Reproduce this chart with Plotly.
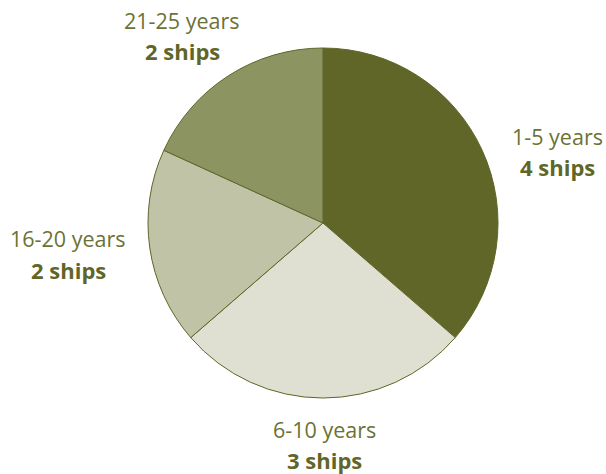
import plotly.graph_objects as go

age_groups = ["1-5 years", "6-10 years", "16-20 years", "21-25 years"]
ships = [4, 3, 2, 2]
colors = ["#5f6628", "#dfe0d2", "#c0c3a6", "#8c9462"]

W, H = 606, 474
# label centre positions in pixels (layout only)
label_pos = [(557, 136), (324, 429), (68, 239), (182, 20)]

cx, cy, r = 323, 223, 175
fig = go.Figure(go.Pie(
    labels=age_groups, values=ships, sort=False, direction="clockwise",
    rotation=0, marker=dict(colors=colors, line=dict(color="#5f6628", width=1)),
    textinfo="none", hoverinfo="label+value", showlegend=False,
    domain=dict(x=[(cx-r)/W, (cx+r)/W], y=[1-(cy+r)/H, 1-(cy-r)/H]),
))

for (name, n), (px, py) in zip(zip(age_groups, ships), label_pos):
    fig.add_annotation(x=px/W, y=1-py/H, xref="paper", yref="paper",
                       text=name, showarrow=False,
                       font=dict(family="Open Sans", size=21.5, color="#6b7236"),
                       xanchor="center", yanchor="middle")
    fig.add_annotation(x=px/W, y=1-(py+31)/H, xref="paper", yref="paper",
                       text=f"<b>{n} ships</b>", showarrow=False, borderpad=0,
                       font=dict(family="Open Sans", size=22, color="#5f6628"),
                       xanchor="center", yanchor="middle")

fig.update_layout(width=W, height=H, margin=dict(l=0, r=0, t=0, b=0),
                  paper_bgcolor="white", plot_bgcolor="white")
fig.write_html("out.html", config={"displayModeBar": False},
               post_script="document.body.style.margin='0';document.body.style.overflow='hidden';")
